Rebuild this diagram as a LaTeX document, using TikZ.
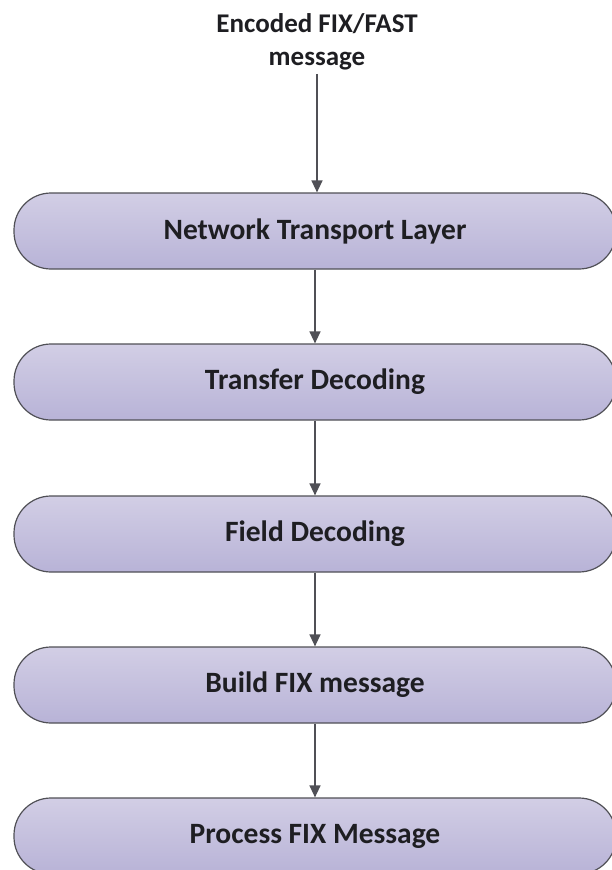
\documentclass[tikz,border=0pt]{standalone}
\usepackage{fontspec}
\setmainfont{Carlito}
\usetikzlibrary{arrows.meta}
\definecolor{boxtop}{RGB}{210,206,229}
\definecolor{boxbot}{RGB}{184,179,215}
\definecolor{edgegray}{RGB}{80,80,86}
\definecolor{textgray}{RGB}{30,30,34}

\begin{document}
\begin{tikzpicture}[x=1pt, y=-1pt,
	stage/.style={draw=edgegray, line width=1.2pt, top color=boxtop, bottom color=boxbot, rounded corners=37pt, minimum width=602pt, minimum height=76pt, font=\fontsize{29.5}{34}\selectfont\bfseries, text=textgray},
	flow/.style={draw=edgegray, line width=1.3pt, -{Triangle[width=11pt,length=12pt]}}]
	\useasboundingbox (0, 0) rectangle (612, 870);
	% Input text and stages:
	\node[align=center, font=\fontsize{27}{33}\selectfont\bfseries, text=textgray](N0) at (317, 42){Encoded FIX/FAST\\message};
	\node[stage](N1) at (315, 231){Network Transport Layer};
	\node[stage](N2) at (315, 382){Transfer Decoding};
	\node[stage](N3) at (315, 534){Field Decoding};
	\node[stage](N4) at (315, 685){Build FIX message};
	\node[stage](N5) at (315, 836){Process FIX Message};
	% Arrows:
	\draw[flow] (N0.south) -- (N0.south |- N1.north);
	\draw[flow] (N1.south) -- (N2.north);
	\draw[flow] (N2.south) -- (N3.north);
	\draw[flow] (N3.south) -- (N4.north);
	\draw[flow] (N4.south) -- (N5.north);
\end{tikzpicture}
\end{document}
